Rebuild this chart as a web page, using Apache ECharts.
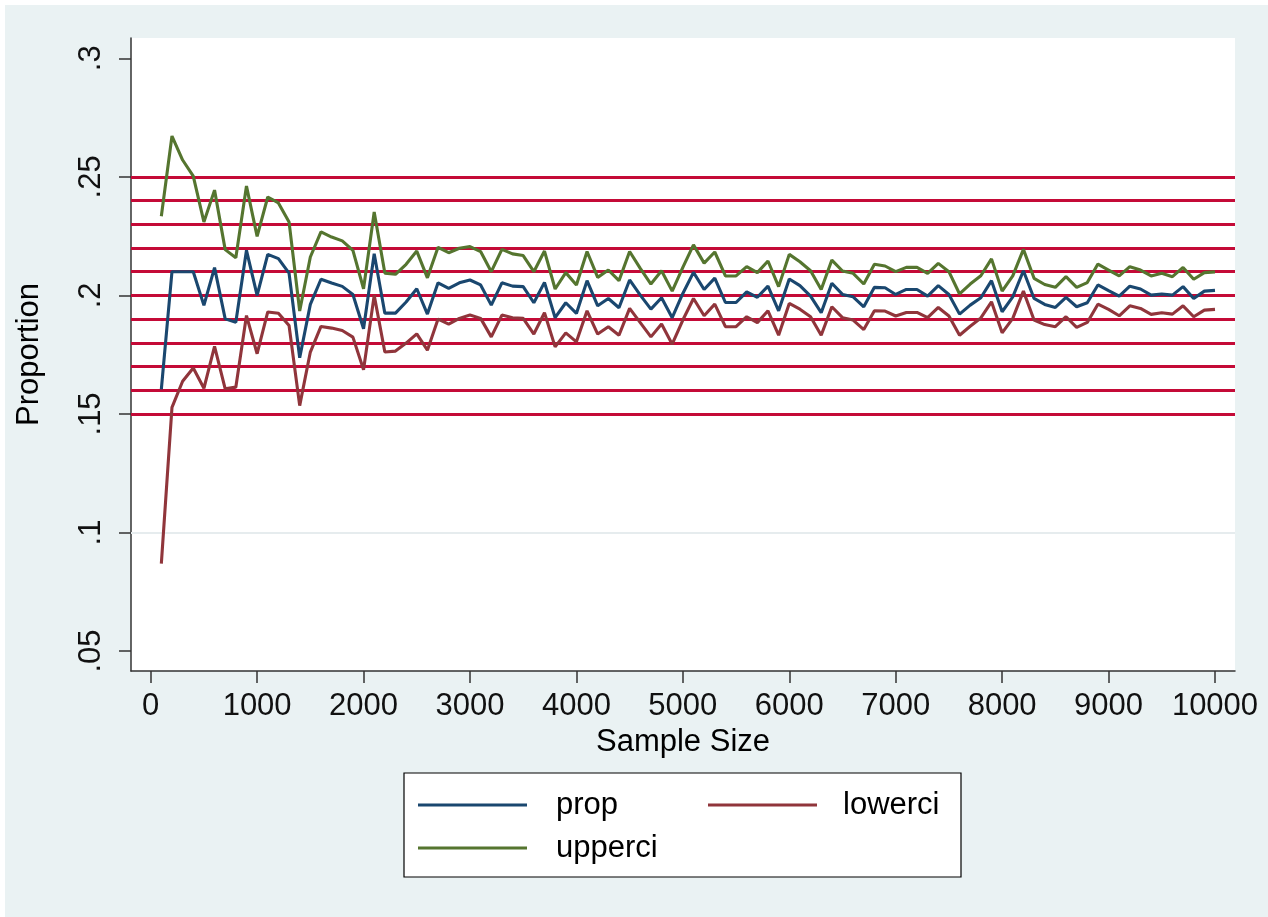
<!DOCTYPE html>
<html>
<head>
<meta charset="utf-8">
<script src="https://cdn.jsdelivr.net/npm/echarts@6/dist/echarts.min.js"></script>
<style>
html,body{margin:0;padding:0;background:#ffffff;}
#chart{width:1268px;height:917px;}
</style>
</head>
<body>
<div id="chart"></div>
<script>
var sampleSize = [100,200,300,400,500,600,700,800,900,1000,1100,1200,1300,1400,1500,1600,1700,1800,1900,2000,
2100,2200,2300,2400,2500,2600,2700,2800,2900,3000,3100,3200,3300,3400,3500,3600,3700,3800,3900,4000,
4100,4200,4300,4400,4500,4600,4700,4800,4900,5000,5100,5200,5300,5400,5500,5600,5700,5800,5900,6000,
6100,6200,6300,6400,6500,6600,6700,6800,6900,7000,7100,7200,7300,7400,7500,7600,7700,7800,7900,8000,
8100,8200,8300,8400,8500,8600,8700,8800,8900,9000,9100,9200,9300,9400,9500,9600,9700,9800,9900,10000];

var prop = [0.1604,0.2100,0.2100,0.2100,0.1958,0.2117,0.1901,0.1887,0.2190,0.2000,
0.2173,0.2155,0.2094,0.1737,0.1962,0.2068,0.2052,0.2038,0.2004,0.1859,
0.2176,0.1925,0.1925,0.1972,0.2028,0.1921,0.2053,0.2030,0.2053,0.2065,
0.2044,0.1959,0.2053,0.2039,0.2037,0.1969,0.2055,0.1906,0.1969,0.1924,
0.2062,0.1956,0.1987,0.1948,0.2065,0.2001,0.1942,0.1990,0.1906,0.2008,
0.2097,0.2025,0.2073,0.1970,0.1970,0.2015,0.1992,0.2039,0.1935,0.2069,
0.2041,0.1997,0.1927,0.2051,0.2004,0.1994,0.1952,0.2034,0.2032,0.2004,
0.2025,0.2025,0.1997,0.2041,0.2004,0.1921,0.1959,0.1990,0.2062,0.1931,
0.1994,0.2104,0.1987,0.1962,0.1949,0.1992,0.1952,0.1969,0.2044,0.2020,
0.1997,0.2039,0.2027,0.2001,0.2006,0.2001,0.2037,0.1987,0.2018,0.2021];

var lowerci = [0.0869,0.1528,0.1638,0.1694,0.1608,0.1785,0.1606,0.1613,0.1915,0.1754,
0.1930,0.1925,0.1873,0.1535,0.1761,0.1869,0.1862,0.1852,0.1824,0.1686,
0.2000,0.1761,0.1765,0.1799,0.1838,0.1769,0.1900,0.1879,0.1903,0.1917,
0.1903,0.1825,0.1917,0.1906,0.1903,0.1837,0.1927,0.1783,0.1842,0.1804,
0.1935,0.1837,0.1868,0.1832,0.1945,0.1885,0.1825,0.1879,0.1794,0.1896,
0.1987,0.1914,0.1963,0.1868,0.1868,0.1910,0.1885,0.1935,0.1832,0.1966,
0.1942,0.1910,0.1832,0.1952,0.1906,0.1896,0.1856,0.1935,0.1934,0.1913,
0.1928,0.1928,0.1906,0.1949,0.1913,0.1832,0.1870,0.1905,0.1973,0.1842,
0.1903,0.2018,0.1896,0.1877,0.1868,0.1910,0.1865,0.1886,0.1963,0.1941,
0.1914,0.1956,0.1945,0.1920,0.1927,0.1921,0.1956,0.1910,0.1938,0.1941];

var upperci = [0.2334,0.2672,0.2571,0.2503,0.2310,0.2444,0.2193,0.2159,0.2461,0.2249,
0.2415,0.2390,0.2310,0.1934,0.2162,0.2268,0.2246,0.2230,0.2190,0.2028,
0.2352,0.2094,0.2089,0.2131,0.2187,0.2074,0.2203,0.2180,0.2199,0.2206,
0.2185,0.2100,0.2194,0.2175,0.2168,0.2100,0.2187,0.2027,0.2096,0.2044,
0.2185,0.2076,0.2107,0.2062,0.2185,0.2114,0.2048,0.2104,0.2018,0.2118,
0.2213,0.2136,0.2183,0.2082,0.2082,0.2121,0.2096,0.2145,0.2037,0.2173,
0.2142,0.2104,0.2025,0.2149,0.2103,0.2093,0.2048,0.2131,0.2124,0.2100,
0.2118,0.2118,0.2093,0.2135,0.2100,0.2006,0.2048,0.2083,0.2154,0.2018,
0.2082,0.2194,0.2072,0.2046,0.2034,0.2079,0.2034,0.2054,0.2132,0.2107,
0.2082,0.2121,0.2107,0.2082,0.2093,0.2079,0.2118,0.2068,0.2096,0.2099];

var xTicks = [0,1000,2000,3000,4000,5000,6000,7000,8000,9000,10000];
var yTicks = [0.05,0.1,0.15,0.2,0.25,0.3];
var refLines = [0.15,0.16,0.17,0.18,0.19,0.20,0.21,0.22,0.23,0.24,0.25];
var gridLines = [0.1];

function pairs(vals){ return sampleSize.map(function(x,i){ return [x, vals[i]]; }); }

var FONT = '"Liberation Sans", Arial, Helvetica, sans-serif';
var FS = 31;
var LW = 3.1;

var chart = echarts.init(document.getElementById('chart'), null, {renderer:'canvas'});
var legendBase = {orient:'vertical', top:787, padding:0, itemGap:7, icon:'rect',
  itemWidth:109, itemHeight:3, z:5,
  textStyle:{fontFamily:FONT, fontSize:FS, color:'#000', lineHeight:36}};
var option = {
  backgroundColor: '#ffffff',
  animation: false,
  textStyle: {fontFamily: FONT},
  graphic: [
    {type:'rect', z:-10, shape:{x:5, y:5, width:1263, height:912}, style:{fill:'#eaf2f3'}, silent:true},
    {type:'rect', z:0, shape:{x:404, y:773, width:557, height:104}, style:{fill:'#ffffff', stroke:'#000000', lineWidth:1.2}, silent:true}
  ],
  grid: {left:131, top:38, right:33, bottom:246, show:true, backgroundColor:'#ffffff', borderWidth:0},
  legend: [
    Object.assign({}, legendBase, {data:['prop','upperci'], left:418,
      textStyle:Object.assign({}, legendBase.textStyle, {padding:[0,0,0,24]})}),
    Object.assign({}, legendBase, {data:['lowerci'], left:708,
      textStyle:Object.assign({}, legendBase.textStyle, {padding:[0,0,0,21]})})
  ],
  xAxis: {
    type:'value', min:-185, max:10188,
    name:'Sample Size', nameLocation:'middle', nameGap:50,
    nameTextStyle:{fontFamily:FONT, fontSize:FS, color:'#000'},
    axisLine:{show:true, onZero:false, lineStyle:{color:'#333', width:1.5}},
    axisTick:{show:true, length:12, lineStyle:{color:'#333', width:1.5}, customValues:xTicks},
    axisLabel:{fontFamily:FONT, fontSize:FS, color:'#111', margin:20, customValues:xTicks,
      formatter:function(v){ return String(Math.round(v)); }},
    splitLine:{show:false}
  },
  yAxis: {
    type:'value', min:0.04158, max:0.30856,
    name:'Proportion', nameLocation:'middle', nameGap:86,
    nameTextStyle:{fontFamily:FONT, fontSize:FS, color:'#000'},
    axisLine:{show:true, onZero:false, lineStyle:{color:'#333', width:1.5}},
    axisTick:{show:true, length:12, lineStyle:{color:'#333', width:1.5}, customValues:yTicks},
    axisLabel:{fontFamily:FONT, fontSize:FS, color:'#111', rotate:90, margin:24, customValues:yTicks,
      formatter:function(v){ return String(+v.toFixed(4)).replace(/^0\./,'.'); }},
    splitLine:{show:false}
  },
  series: [
    {name:'ref', type:'line', data:[], z:1, silent:true,
     markLine:{silent:true, symbol:'none', z:1, label:{show:false},
       data: gridLines.map(function(v){ return {yAxis:v, lineStyle:{color:'#e6ecee', width:2, type:'solid'}}; })
         .concat(refLines.map(function(v){ return {yAxis:v, lineStyle:{color:'#c40a37', width:3, type:'solid'}}; }))
     }},
    {name:'prop', type:'line', data:pairs(prop), showSymbol:false, symbol:'none', z:3,
     lineStyle:{color:'#1a476f', width:LW}, itemStyle:{color:'#1a476f'}},
    {name:'lowerci', type:'line', data:pairs(lowerci), showSymbol:false, symbol:'none', z:3,
     lineStyle:{color:'#90353b', width:LW}, itemStyle:{color:'#90353b'}},
    {name:'upperci', type:'line', data:pairs(upperci), showSymbol:false, symbol:'none', z:3,
     lineStyle:{color:'#55752f', width:LW}, itemStyle:{color:'#55752f'}}
  ]
};
chart.setOption(option);
</script>
</body>
</html>
